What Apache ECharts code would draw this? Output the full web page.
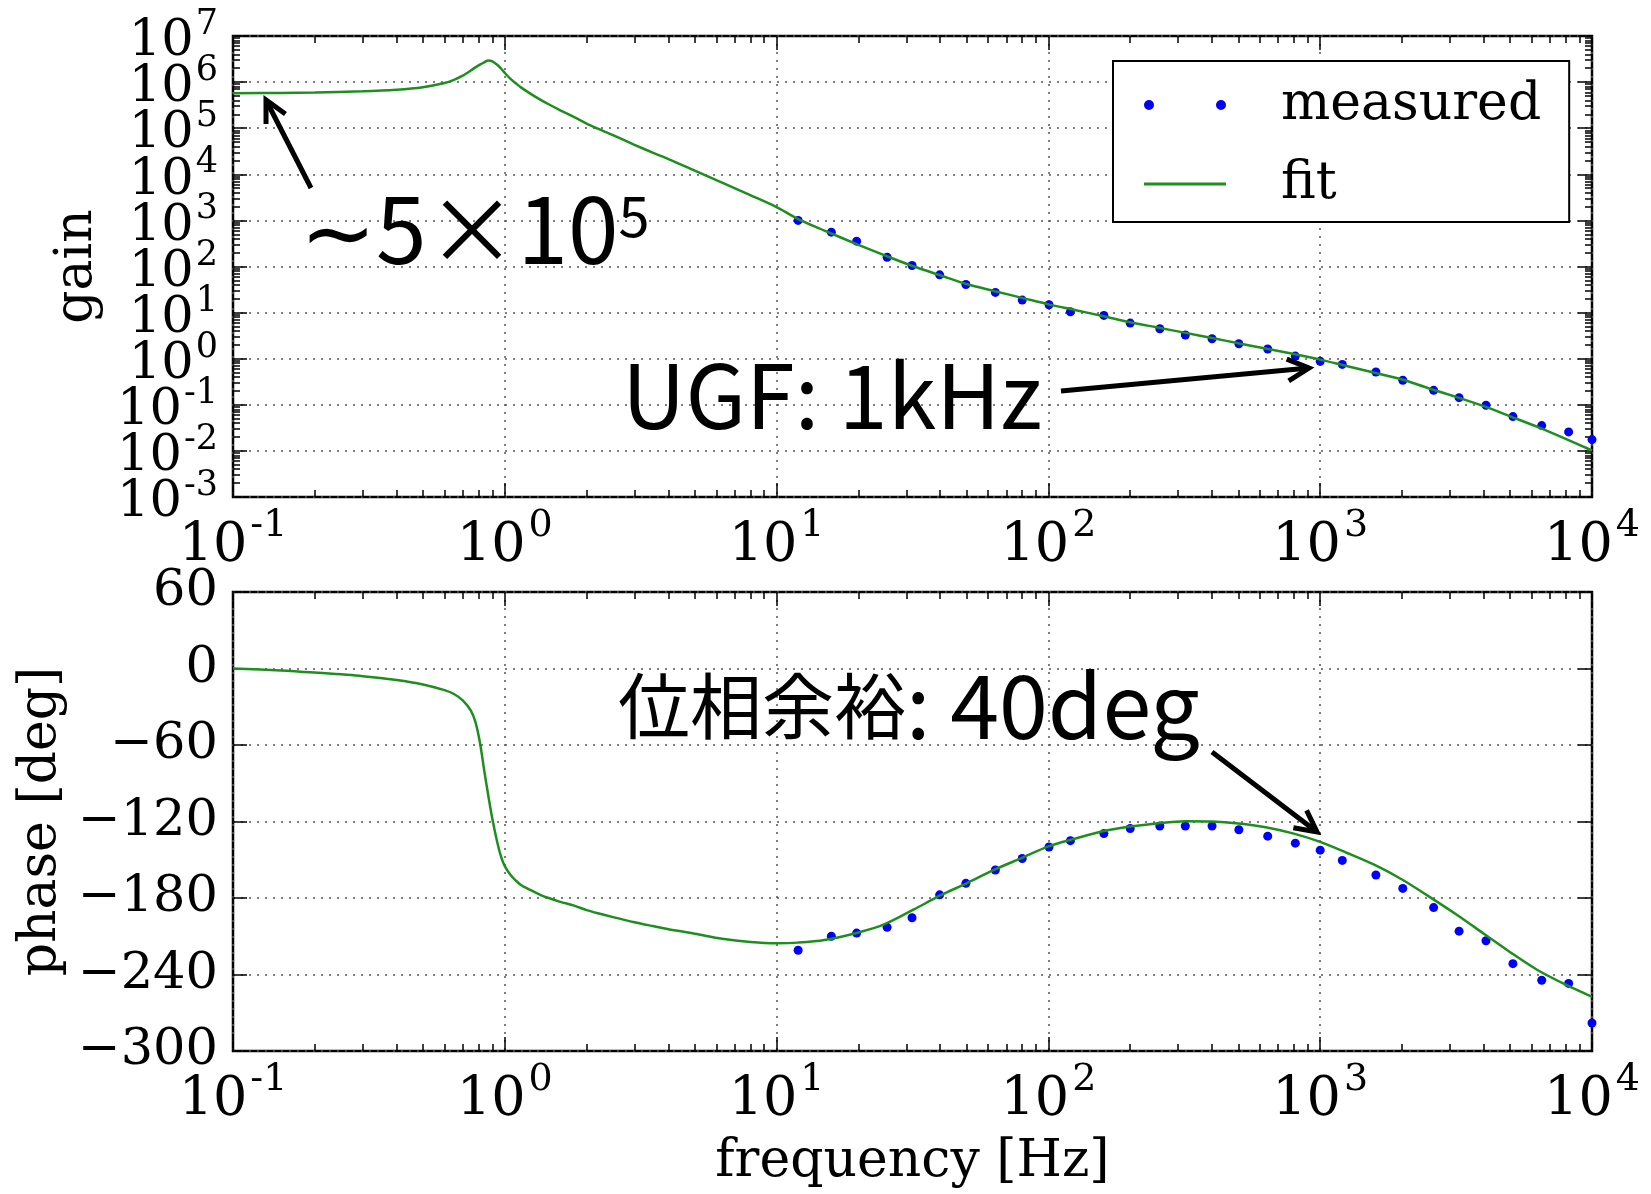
<!DOCTYPE html>
<html>
<head>
<meta charset="utf-8">
<title>Bode plot: measured vs fit</title>
<script src="https://cdn.jsdelivr.net/npm/echarts@6/dist/echarts.min.js"></script>
<style>
  html, body { margin: 0; padding: 0; background: #fff; }
  #main { width: 1651px; height: 1194px; }
</style>
</head>
<body>
<div id="main"></div>
<script>
// ---- values ----
var fitFreq = [0.1, 0.15, 0.2, 0.3, 0.4, 0.5, 0.6, 0.65, 0.7, 0.75,
    0.78, 0.81, 0.84, 0.87, 0.9, 0.94, 0.97, 1.0, 1.05, 1.1,
    1.15, 1.25, 1.35, 1.45, 1.6, 1.8, 2.0, 2.2, 2.5, 3.0,
    3.5, 4.0, 5.0, 6.3, 8.0, 10, 12, 15, 20, 25,
    32, 40, 50, 63, 80, 100, 125, 160, 200, 250,
    320, 400, 500, 630, 800, 1000, 1250, 1600, 2000, 2500,
    3200, 4000, 5000, 6300, 8000, 10000];
var fitGain = [5.75e5, 5.82e5, 5.96e5, 6.31e5, 6.84e5, 7.76e5, 9.55e5, 1.12e6, 1.38e6, 1.78e6,
    2.09e6, 2.40e6, 2.69e6, 2.95e6, 2.82e6, 2.34e6, 1.95e6, 1.58e6, 1.17e6, 9.33e5,
    7.59e5, 5.50e5, 4.17e5, 3.31e5, 2.45e5, 1.74e5, 1.26e5, 9.77e4, 7.08e4, 4.37e4,
    2.95e4, 2.14e4, 1.20e4, 6.61e3, 3.55e3, 1.95e3, 1.07e3, 603, 295, 174,
    100, 64.6, 41.7, 29.5, 20.9, 15.1, 11.4, 8.32, 6.17, 4.79,
    3.63, 2.82, 2.16, 1.66, 1.26, 0.955, 0.692, 0.490, 0.355, 0.229,
    0.145, 0.0933, 0.0562, 0.0331, 0.0182, 0.0102];
var fitPhase = [0, -1.5, -3.2, -6, -9, -12.5, -17, -20, -25, -33,
    -42, -58, -80, -100, -118, -137, -148, -155, -162, -166.5,
    -170, -174, -177.5, -180, -183, -186, -189.5, -192, -195, -199,
    -202, -204.5, -208, -212, -214.5, -215.5, -215, -213, -207, -200.5,
    -189, -178, -168.5, -158, -148.5, -139.5, -133.5, -127.5, -124, -121.5,
    -119.8, -120, -121.5, -124.5, -129.5, -136, -144.5, -154.5, -165.5, -178.5,
    -193.5, -208, -222.5, -236.5, -248, -257.5];

var measFreq = [12, 15.9, 19.7, 25.5, 31.5, 39.8, 49.7, 63.8, 80.1, 100.5,
    120.5, 160, 200, 257, 319, 400, 502, 641, 810, 1000,
    1206, 1603, 2013, 2614, 3243, 4074, 5117, 6531, 8204, 10000];
var measGain = [1000, 555, 354, 159, 105, 65.9, 40.7, 27.4, 18.7, 14.8,
    10.4, 8.69, 5.93, 4.47, 3.26, 2.71, 2.11, 1.62, 1.14, 0.875,
    0.753, 0.514, 0.340, 0.206, 0.143, 0.0975, 0.0555, 0.0354, 0.0258, 0.0176];
var measPhase = [-221, -210, -207.5, -203, -195.5, -177.5, -168.5, -158, -149, -140,
    -135, -129.5, -125.5, -123.5, -123.5, -123.5, -126.5, -131.5, -137, -142.5,
    -150.5, -162, -172.5, -187.5, -206, -213.5, -231.5, -244.5, -247, -278];

var freqTicks = [0.1, 1, 10, 100, 1000, 10000];
var gainTicks = [0.001, 0.01, 0.1, 1, 10, 100, 1000, 1e4, 1e5, 1e6, 1e7];

// ---- styling ----
var SERIF = 'DejaVu Serif';
var JP = 'Noto Sans CJK JP';
var GREEN = '#1e8f1e';
var BLUE = '#0000ff';

function minorTicks(decades) {
    var out = [];
    for (var i = 0; i < decades.length - 1; i++) {
        for (var m = 2; m <= 9; m++) out.push(decades[i] * m);
    }
    return out;
}
var freqMinor = minorTicks(freqTicks);
var gainMinor = minorTicks(gainTicks);
// gain labels are split over two axes (every other decade) so that
// ECharts never thinks neighbouring labels overlap and drops one
var gainLabelsA = gainTicks.filter(function (v, i) { return i % 2 === 0; });
var gainLabelsB = gainTicks.filter(function (v, i) { return i % 2 === 1; });

function zip(xs, ys) {
    return xs.map(function (x, i) { return [x, ys[i]]; });
}

function powLabel(v) {
    var e = Math.round(Math.log10(v));
    return '{b|10}{s|' + e + '}';
}

var xRich = {
    b: {fontFamily: SERIF, fontSize: 54, color: '#000', height: 40, lineHeight: 55, verticalAlign: 'bottom'},
    s: {fontFamily: SERIF, fontSize: 38, color: '#000', height: 28, lineHeight: 28, verticalAlign: 'top', padding: [0, 0, 0, 3]}
};
var yRich = {
    b: {fontFamily: SERIF, fontSize: 51, color: '#000', height: 22, lineHeight: 30, padding: [12, 0, 0, 0]},
    s: {fontFamily: SERIF, fontSize: 35, color: '#000', height: 25, lineHeight: 20, padding: [0, 0, 22, 2]}
};

var tickLine = {color: '#000', width: 1.5};
var gridLine = {color: '#555', width: 1.5, type: [2, 6]};
var nameStyle = {fontFamily: SERIF, fontSize: 52, color: '#000'};

// axis that only draws inside ticks (minor ticks and the opposite sides)
function tickAxis(type, grid, pos, min, max, values, len) {
    return {
        type: type, gridIndex: grid, position: pos, min: min, max: max,
        axisLine: {show: false, onZero: false},
        axisTick: {show: true, inside: true, length: len, customValues: values, lineStyle: tickLine},
        axisLabel: {show: false},
        splitLine: {show: false}
    };
}

function freqAxis(grid, withName) {
    return {
        type: 'log', logBase: 10, gridIndex: grid, position: 'bottom', min: 0.1, max: 10000,
        name: withName ? 'frequency [Hz]' : '',
        nameLocation: 'middle', nameGap: 85, nameTextStyle: nameStyle,
        axisLine: {show: false, onZero: false},
        axisTick: {show: true, inside: true, length: 14, customValues: freqTicks, lineStyle: tickLine},
        axisLabel: {
            customValues: freqTicks, formatter: powLabel, rich: xRich, margin: 15,
            showMinLabel: true, showMaxLabel: true, hideOverlap: false
        },
        splitLine: {show: true, lineStyle: gridLine}
    };
}

function gainLabelAxis(labels) {
    return {
        type: 'log', logBase: 10, gridIndex: 0, position: 'left', min: 0.001, max: 1e7,
        axisLine: {show: false, onZero: false},
        axisTick: {show: false},
        axisLabel: {
            customValues: labels, formatter: powLabel, rich: yRich, margin: 15,
            showMinLabel: true, showMaxLabel: true, hideOverlap: false
        },
        splitLine: {show: false}
    };
}

var xAxes = [];
[0, 1].forEach(function (g) {
    xAxes.push(freqAxis(g, g === 1));
    xAxes.push(tickAxis('log', g, 'bottom', 0.1, 10000, freqMinor, 7));
    xAxes.push(tickAxis('log', g, 'top', 0.1, 10000, freqTicks, 14));
    xAxes.push(tickAxis('log', g, 'top', 0.1, 10000, freqMinor, 7));
});

var yAxes = [
    {
        type: 'log', logBase: 10, gridIndex: 0, position: 'left', min: 0.001, max: 1e7,
        name: 'gain', nameLocation: 'middle', nameRotate: 90, nameGap: 130, nameTextStyle: nameStyle,
        axisLine: {show: false, onZero: false},
        axisTick: {show: true, inside: true, length: 14, customValues: gainTicks, lineStyle: tickLine},
        axisLabel: {show: false},
        splitLine: {show: true, lineStyle: gridLine}
    },
    tickAxis('log', 0, 'left', 0.001, 1e7, gainMinor, 7),
    tickAxis('log', 0, 'right', 0.001, 1e7, gainTicks, 14),
    tickAxis('log', 0, 'right', 0.001, 1e7, gainMinor, 7),
    {
        type: 'value', gridIndex: 1, position: 'left', min: -300, max: 60, interval: 60,
        name: 'phase [deg]', nameLocation: 'middle', nameRotate: 90, nameGap: 163, nameTextStyle: nameStyle,
        axisLine: {show: false, onZero: false},
        axisTick: {show: true, inside: true, length: 14, lineStyle: tickLine},
        axisLabel: {
            fontFamily: SERIF, fontSize: 51, color: '#000', margin: 15,
            showMinLabel: true, showMaxLabel: true,
            formatter: function (v) { return v < 0 ? '\u2212' + (-v) : String(v); }
        },
        splitLine: {show: true, lineStyle: gridLine}
    },
    {
        type: 'value', gridIndex: 1, position: 'right', min: -300, max: 60, interval: 60,
        axisLine: {show: false, onZero: false},
        axisTick: {show: true, inside: true, length: 14, lineStyle: tickLine},
        axisLabel: {show: false},
        splitLine: {show: false}
    },
    gainLabelAxis(gainLabelsA),
    gainLabelAxis(gainLabelsB)
];

// legend icons: two dots for the measured points, a line for the fit
var MEAS_ICON = 'path://M0,5a5,5 0 1,0 10,0a5,5 0 1,0 -10,0Z M72,5a5,5 0 1,0 10,0a5,5 0 1,0 -10,0Z';
var FIT_ICON = 'path://M0,0L0.01,0M0,10L0.01,10M0,3.5H82V6.5H0Z';

// annotations (page pixels)
function arrow(tail, tip) {
    var ang = Math.atan2(tail[1] - tip[1], tail[0] - tip[0]);
    var L = 24, a = 27 * Math.PI / 180;
    var p1 = [tip[0] + L * Math.cos(ang + a), tip[1] + L * Math.sin(ang + a)];
    var p2 = [tip[0] + L * Math.cos(ang - a), tip[1] + L * Math.sin(ang - a)];
    return [
        {type: 'line', z: 100, shape: {x1: tail[0], y1: tail[1], x2: tip[0], y2: tip[1]},
            style: {stroke: '#000', lineWidth: 5}},
        {type: 'polyline', z: 100, shape: {points: [p1, tip, p2]},
            style: {stroke: '#000', lineWidth: 5, fill: null, lineJoin: 'miter'}}
    ];
}

var graphics = [
    {
        type: 'text', z: 100, x: 300, y: 184,
        style: {
            text: '{m|\u223c5\u00d710}{s|5}', verticalAlign: 'top',
            rich: {
                m: {fontFamily: JP, fontSize: 91, fill: '#000'},
                s: {fontFamily: JP, fontSize: 56, fill: '#000', height: 64, verticalAlign: 'top'}
            }
        }
    },
    {
        type: 'text', z: 100, x: 622, y: 352,
        style: {text: 'UGF: 1kHz', fontFamily: JP, fontSize: 88, fill: '#000', verticalAlign: 'top'}
    },
    {
        type: 'text', z: 100, x: 618, y: 662,
        style: {
            text: '{c|位相余裕}{l|: 40deg}', verticalAlign: 'top',
            rich: {
                c: {fontFamily: JP, fontSize: 72, fill: '#000'},
                l: {fontFamily: JP, fontSize: 88, fill: '#000'}
            }
        }
    }
].concat(arrow([311, 188], [266, 100]))
 .concat(arrow([1061, 391], [1309, 368]))
 .concat(arrow([1212, 752], [1317, 832]));

var chart = echarts.init(document.getElementById('main'));
chart.setOption({
    animation: false,
    backgroundColor: '#fff',
    grid: [
        {left: 233, top: 36, width: 1359, height: 461, show: true, borderColor: '#000', borderWidth: 2.5,
            backgroundColor: '#fff', outerBoundsMode: 'none'},
        {left: 233, top: 592, width: 1359, height: 459, show: true, borderColor: '#000', borderWidth: 2.5,
            backgroundColor: '#fff', outerBoundsMode: 'none'}
    ],
    xAxis: xAxes,
    yAxis: yAxes,
    legend: {
        orient: 'vertical', left: 1113, top: 61,
        padding: [14, 28, 8, 31],
        itemWidth: 82, itemHeight: 10, itemGap: 19,
        borderColor: '#000', borderWidth: 2, backgroundColor: '#fff',
        selectedMode: false,
        itemStyle: {borderWidth: 0},
        textStyle: {fontFamily: SERIF, fontSize: 52, color: '#000', lineHeight: 52, padding: [8, 0, 0, 50]},
        data: [{name: 'measured', icon: MEAS_ICON}, {name: 'fit', icon: FIT_ICON}]
    },
    graphic: graphics,
    series: [
        {name: 'measured', type: 'scatter', xAxisIndex: 0, yAxisIndex: 0, data: zip(measFreq, measGain),
            symbolSize: 9, itemStyle: {color: BLUE, opacity: 1}},
        {name: 'fit', type: 'line', xAxisIndex: 0, yAxisIndex: 0, data: zip(fitFreq, fitGain),
            symbol: 'none', smooth: 0.3, lineStyle: {color: GREEN, width: 2.5}, itemStyle: {color: GREEN}},
        {name: 'measured', type: 'scatter', xAxisIndex: 4, yAxisIndex: 4, data: zip(measFreq, measPhase),
            symbolSize: 9, itemStyle: {color: BLUE, opacity: 1}},
        {name: 'fit', type: 'line', xAxisIndex: 4, yAxisIndex: 4, data: zip(fitFreq, fitPhase),
            symbol: 'none', smooth: 0.3, lineStyle: {color: GREEN, width: 2.5}, itemStyle: {color: GREEN}}
    ]
});
</script>
</body>
</html>
